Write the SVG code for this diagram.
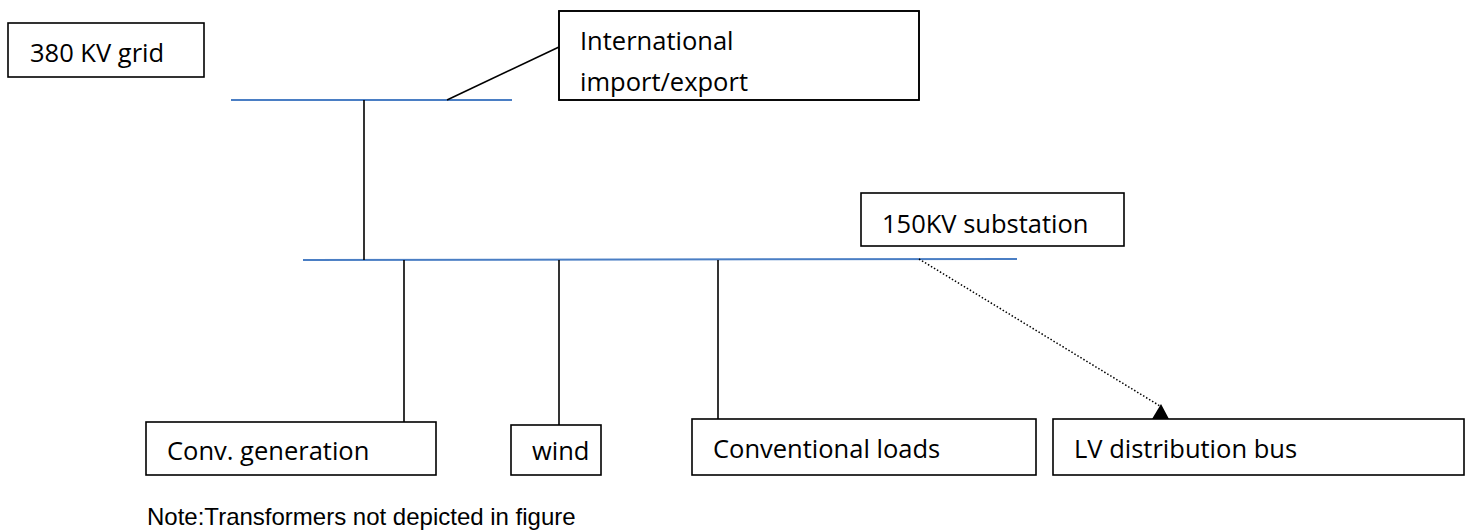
<svg xmlns="http://www.w3.org/2000/svg" width="1472" height="531" viewBox="0 0 1472 531">
<style>
.box{fill:#fff;stroke:#000;stroke-width:1.6}
.lbl{font-family:"Open Sans","Liberation Sans",sans-serif;font-size:25.5px;fill:#000}
.bus{stroke:#4A7EC4;stroke-width:2;fill:none}
.wire{stroke:#000;stroke-width:1.6;fill:none}
.dot{stroke:#000;stroke-width:1.5;stroke-dasharray:1.5 2;fill:none}
.note{font-family:"Liberation Sans",Arial,sans-serif;font-size:24px;fill:#000}
</style>
<defs>
<clipPath id="intclip"><rect x="559" y="11" width="360" height="89"/></clipPath>
</defs>
<rect width="1472" height="531" fill="#fff"/>
<g id="connectors">
<line class="bus" x1="231" y1="100" x2="512" y2="100"/>
<line class="bus" x1="303" y1="260" x2="1017" y2="259"/>
<line class="wire" x1="364" y1="100" x2="364" y2="260"/>
<line class="wire" x1="447" y1="100" x2="559" y2="47"/>
<line class="wire" x1="404" y1="260" x2="404" y2="422"/>
<line class="wire" x1="559" y1="260" x2="559" y2="425"/>
<line class="wire" x1="718" y1="260" x2="718" y2="419"/>
<line class="dot" x1="919" y1="259" x2="1160" y2="406"/>
<polygon points="1161,404 1152,419 1169,419" fill="#000"/>
</g>
<g id="grid380">
<rect class="box" x="8" y="23" width="196" height="54"/>
<text class="lbl" x="30" y="62">380 KV grid</text>
</g>
<g id="international">
<rect class="box" x="559" y="11" width="360" height="89"/>
<g clip-path="url(#intclip)">
<text class="lbl" x="580" y="50">International</text>
<text class="lbl" x="580" y="91">import/export</text>
</g>
<rect x="559" y="11" width="360" height="89" fill="none" stroke="#000" stroke-width="1.6"/>
</g>
<g id="substation150">
<rect class="box" x="861" y="193" width="263" height="53"/>
<text class="lbl" x="882" y="233">150KV substation</text>
</g>
<g id="convgen">
<rect class="box" x="146" y="422" width="290" height="53"/>
<text class="lbl" x="167" y="460">Conv. generation</text>
</g>
<g id="wind">
<rect class="box" x="511" y="425" width="90" height="50"/>
<text class="lbl" x="532" y="460">wind</text>
</g>
<g id="convloads">
<rect class="box" x="692" y="419" width="344" height="56"/>
<text class="lbl" x="713" y="458">Conventional loads</text>
</g>
<g id="lvbus">
<rect class="box" x="1053" y="419" width="411" height="56"/>
<text class="lbl" x="1074" y="458">LV distribution bus</text>
</g>
<g id="note">
<text class="note" x="147" y="525">Note:Transformers not depicted in figure</text>
</g>
</svg>
